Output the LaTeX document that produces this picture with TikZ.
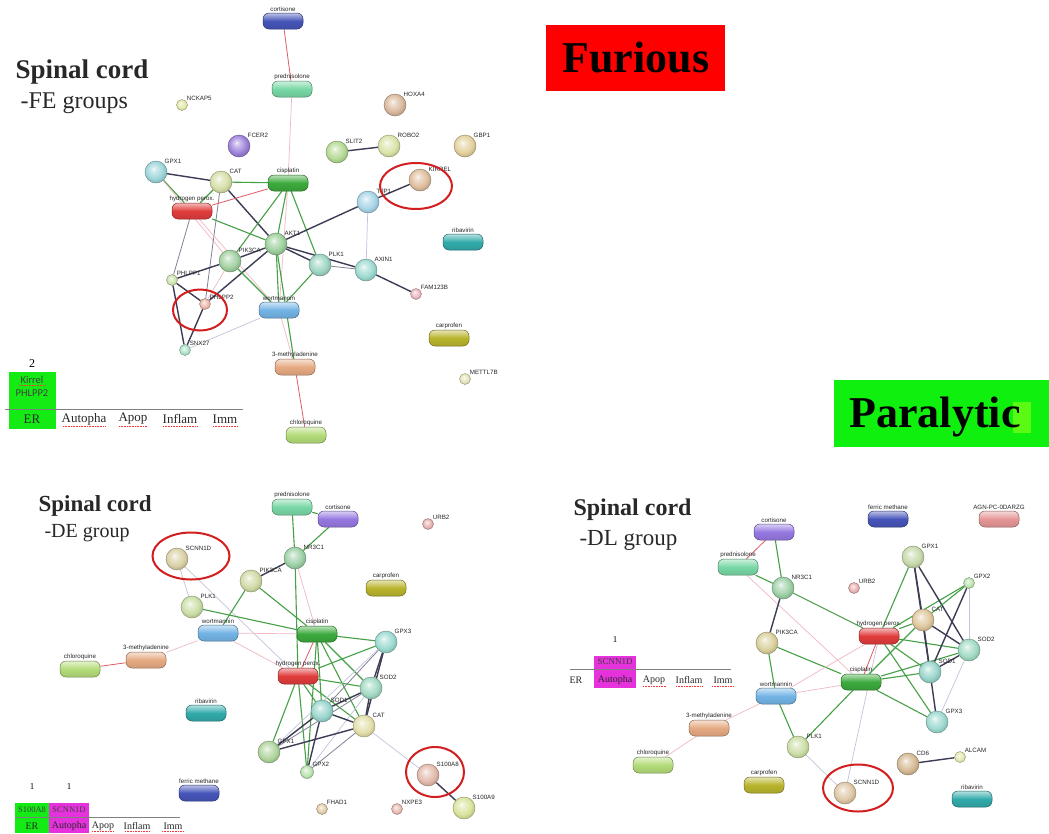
\documentclass[tikz,border=0pt]{standalone}
\usepackage{fontspec}
\setmainfont{Liberation Serif}
\newfontfamily\lsans{Liberation Sans}
\newfontfamily\carl{Carlito}
\usetikzlibrary{shapes.geometric}
\pgfdeclarelayer{bgl}
\pgfdeclarelayer{edg}
\pgfsetlayers{bgl,edg,main}
\colorlet{sphc}{gray}
\pgfdeclareradialshading[sphc]{glossy}{\pgfqpoint{-6bp}{8bp}}{color(0bp)=(sphc!12!white); color(6bp)=(sphc!45!white); color(20bp)=(sphc!92!white); color(29bp)=(sphc!85!black); color(50bp)=(sphc!75!black)}
% node colours
\definecolor{cBlue}{RGB}{70,85,185}
\definecolor{cPurp}{RGB}{150,120,225}
\definecolor{cPred}{RGB}{120,215,165}
\definecolor{cCis}{RGB}{60,170,60}
\definecolor{cHp}{RGB}{225,60,60}
\definecolor{cWort}{RGB}{115,180,230}
\definecolor{cRib}{RGB}{50,170,170}
\definecolor{cCarp}{RGB}{185,180,45}
\definecolor{cMeth}{RGB}{230,170,130}
\definecolor{cChl}{RGB}{180,220,120}
\definecolor{cAgn}{RGB}{230,150,150}
\definecolor{cGpxA}{RGB}{150,210,215}
\definecolor{cCatA}{RGB}{210,220,160}
\definecolor{cAkt}{RGB}{150,205,150}
\definecolor{cPik}{RGB}{155,205,155}
\definecolor{cPlkA}{RGB}{150,210,190}
\definecolor{cAxin}{RGB}{150,215,205}
\definecolor{cTjp}{RGB}{160,210,230}
\definecolor{cKir}{RGB}{220,185,150}
\definecolor{cHox}{RGB}{215,180,150}
\definecolor{cFcer}{RGB}{150,120,215}
\definecolor{cSlit}{RGB}{175,215,140}
\definecolor{cRobo}{RGB}{215,225,160}
\definecolor{cGbp}{RGB}{225,205,150}
\definecolor{cNck}{RGB}{225,230,160}
\definecolor{cFam}{RGB}{235,175,185}
\definecolor{cPhl1}{RGB}{200,225,165}
\definecolor{cPhl2}{RGB}{235,175,165}
\definecolor{cSnx}{RGB}{165,225,195}
\definecolor{cMet}{RGB}{225,225,180}
\definecolor{cScnB}{RGB}{215,205,160}
\definecolor{cNr}{RGB}{150,205,160}
\definecolor{cPikB}{RGB}{205,215,160}
\definecolor{cPlkB}{RGB}{200,220,160}
\definecolor{cGpx3}{RGB}{150,215,205}
\definecolor{cSod2}{RGB}{155,215,190}
\definecolor{cSod1}{RGB}{145,210,200}
\definecolor{cCatB}{RGB}{225,220,165}
\definecolor{cGpxB}{RGB}{170,210,150}
\definecolor{cGpx2}{RGB}{180,225,170}
\definecolor{cS8}{RGB}{225,180,165}
\definecolor{cS9}{RGB}{215,225,150}
\definecolor{cFhad}{RGB}{225,200,160}
\definecolor{cNxpe}{RGB}{230,180,170}
\definecolor{cUrb}{RGB}{230,170,170}
\definecolor{cPikC}{RGB}{215,205,150}
\definecolor{cGpxC}{RGB}{195,215,165}
\definecolor{cCatC}{RGB}{220,195,150}
\definecolor{cCd6}{RGB}{210,180,140}
\definecolor{cAlc}{RGB}{225,230,170}
\definecolor{cScnC}{RGB}{220,195,160}
% edge colours
\definecolor{cEg}{RGB}{70,160,70}
\definecolor{cEd}{RGB}{60,60,85}
\definecolor{cEdl}{RGB}{130,130,150}
\definecolor{cEr}{RGB}{225,90,100}
\definecolor{cEp}{RGB}{240,185,195}
\definecolor{cEl}{RGB}{195,195,220}
% other
\definecolor{cFur}{RGB}{255,0,0}
\definecolor{cPar}{RGB}{15,240,15}
\definecolor{cPar2}{RGB}{90,250,20}
\definecolor{cTg}{RGB}{20,235,20}
\definecolor{cTm}{RGB}{230,50,220}
\definecolor{cRing}{RGB}{210,30,30}
\definecolor{cTxt}{RGB}{40,40,40}
\begin{document}
\begin{tikzpicture}[x=1pt,y=-1pt,
  lbl/.style={font=\lsans\fontsize{6.2}{7}\selectfont, text=black!85, inner sep=0.6pt},
  bl/.style={circle, inner sep=0pt, minimum size=22pt, /utils/exec={\colorlet{sphc}{#1}}, shading=glossy, shade, draw=#1!65!black, line width=0.4pt},
  sbl/.style={bl=#1, minimum size=11pt},
  pl/.style={rectangle, rounded corners=6pt, minimum width=40pt, minimum height=16pt, inner sep=0pt, draw=#1!60!black, line width=0.5pt, top color=#1!35!white, bottom color=#1!90!black, middle color=#1},
  ls/.style={label={[lbl,anchor=south west]45:#1}},
  lp/.style={label={[lbl,anchor=south]90:#1}},
  eg/.style={draw=cEg, line width=1.1pt},
  ed/.style={draw=cEd, line width=1.4pt},
  edl/.style={draw=cEdl, line width=0.8pt},
  er/.style={draw=cEr, line width=0.8pt},
  ep/.style={draw=cEp, line width=0.7pt},
  el/.style={draw=cEl, line width=0.7pt},
  ring/.style={ellipse, draw=cRing, line width=2pt, inner sep=0pt},
  ttl/.style={anchor=base west, text=cTxt},
  tab/.style={font=\fontsize{13}{14}\selectfont, text=cTxt},
  tabs/.style={font=\fontsize{10}{11}\selectfont, text=cTxt},
  sq/.style={draw=red!80, densely dotted, line width=0.6pt}
]
\begin{pgfonlayer}{bgl}
\fill[white] (0,0) rectangle (1049,833);
\end{pgfonlayer}
\useasboundingbox (0,0) rectangle (1049,833);

% ===== titles and banners =====
\node[ttl, font=\bfseries\fontsize{27}{30}\selectfont] (t1a) at (12,78) {Spinal cord};
\node[ttl, font=\fontsize{24}{28}\selectfont] (t1b) at (17,108) {-FE groups};
\node[ttl, font=\bfseries\fontsize{23}{26}\selectfont] (t2a) at (35,511) {Spinal cord};
\node[ttl, font=\fontsize{20}{24}\selectfont] (t2b) at (41,537) {-DE group};
\node[ttl, font=\bfseries\fontsize{24}{27}\selectfont] (t3a) at (570,515) {Spinal cord};
\node[ttl, font=\fontsize{23}{26}\selectfont] (t3b) at (576,545) {-DL group};

\node[fill=cFur, minimum width=179pt, minimum height=66pt, inner sep=0pt] (fur) at (635.5,58) {};
\node[anchor=base west, font=\bfseries\fontsize{44}{44}\selectfont] (furt) at (559,72) {Furious};
\node[fill=cPar, minimum width=215pt, minimum height=67pt, inner sep=0pt] (par) at (941.5,413.5) {};
\node[fill=cPar2, minimum width=18pt, minimum height=31pt, inner sep=0pt] (par2) at (1022,417.5) {};
\node[anchor=base west, font=\bfseries\fontsize{44}{44}\selectfont] (part) at (846,427) {Paralytic};

% ===== tables =====
\node[font=\fontsize{12}{12}\selectfont] (f2) at (32,364) {2};
\node[fill=cTg, minimum width=47pt, minimum height=57pt, inner sep=0pt] (fg) at (32.5,400.5) {};
\node[font=\carl\fontsize{10.5}{11}\selectfont, text=black!75] (fk) at (32,380) {Kirrel};
\node[font=\carl\fontsize{10.5}{11}\selectfont, text=black!75] (fp) at (32,393) {PHLPP2};
\draw[gray, line width=0.8pt] (5,409) -- (243,409);
\node[tab] (fer) at (32,419) {ER};
\node[tab] (fau) at (84,419) {Autopha};
\node[tab] (fap) at (133,419) {Apop};
\node[tab] (fin) at (180,419) {Inflam};
\node[tab] (fim) at (225,419) {Imm};
\draw[sq] (63,426) -- (105,426) (119,426) -- (147,426) (163,426) -- (197,426) (213,426) -- (238,426);
\draw[sq] (19,385) -- (45,385);

\node[font=\fontsize{9}{9}\selectfont] (d1) at (32,787) {1};
\node[font=\fontsize{9}{9}\selectfont] (d2) at (69,787) {1};
\node[fill=cTg, minimum width=34pt, minimum height=30pt, inner sep=0pt] (dg) at (32,818) {};
\node[fill=cTm, minimum width=40pt, minimum height=30pt, inner sep=0pt] (dm) at (69,818) {};
\node[font=\fontsize{8.5}{10}\selectfont, text=black!75] (ds8) at (32,810) {S100A8};
\node[font=\fontsize{8.5}{10}\selectfont, text=black!75] (dsc) at (69,810) {SCNN1D};
\draw[gray, line width=0.7pt] (15,817) -- (180,817);
\node[tabs] (der) at (32,826) {ER};
\node[tabs] (dau) at (69,826) {Autopha};
\node[tabs] (dap) at (103,826) {Apop};
\node[tabs] (din) at (137,826) {Inflam};
\node[tabs] (dim) at (173,826) {Imm};
\draw[sq] (92,831) -- (114,831) (125,831) -- (150,831) (162,831) -- (183,831);

\node[font=\fontsize{9}{9}\selectfont] (l1) at (615,640) {1};
\node[fill=cTm, minimum width=42pt, minimum height=32pt, inner sep=0pt] (lm) at (615,672) {};
\node[font=\fontsize{9}{10}\selectfont, text=black!75] (lsc) at (615,662) {SCNN1D};
\draw[gray, line width=0.7pt] (570,669) -- (731,669);
\node[tabs] (ler) at (576,680) {ER};
\node[tabs] (lau) at (615,680) {Autopha};
\node[tabs] (lap) at (654,680) {Apop};
\node[tabs] (lin) at (689,680) {Inflam};
\node[tabs] (lim) at (723,680) {Imm};
\draw[sq] (643,686) -- (666,686) (676,686) -- (702,686) (712,686) -- (734,686);

% ===== FE network =====
\node[pl=cBlue, lp=cortisone] (a-cort) at (283,21) {};
\node[pl=cPred, lp=prednisolone] (a-pred) at (292,89) {};
\node[sbl=cNck, ls=NCKAP5] (a-nck) at (182,105) {};
\node[bl=cHox, ls=HOXA4] (a-hox) at (395,105) {};
\node[bl=cFcer, ls=FCER2] (a-fcer) at (239,146) {};
\node[bl=cSlit, ls=SLIT2] (a-slit) at (337,152) {};
\node[bl=cRobo, ls=ROBO2] (a-robo) at (389,146) {};
\node[bl=cGbp, ls=GBP1] (a-gbp) at (465,146) {};
\node[bl=cGpxA, ls=GPX1] (a-gpx1) at (156,172) {};
\node[bl=cCatA, ls=CAT] (a-cat) at (221,182) {};
\node[pl=cCis, lp=cisplatin] (a-cis) at (288,183) {};
\node[bl=cKir, ls=KIRREL] (a-kir) at (420,180) {};
\node[bl=cTjp, ls=TJP1] (a-tjp) at (368,202) {};
\node[pl=cHp, lp=hydrogen perox.] (a-hp) at (192,211) {};
\node[bl=cAkt, ls=AKT1] (a-akt) at (276,244) {};
\node[bl=cPik, ls=PIK3CA] (a-pik) at (230,261) {};
\node[bl=cPlkA, ls=PLK1] (a-plk) at (320,265) {};
\node[bl=cAxin, ls=AXIN1] (a-axin) at (366,270) {};
\node[sbl=cFam, ls=FAM123B] (a-fam) at (416,294) {};
\node[sbl=cPhl1, ls=PHLPP1] (a-phl1) at (172,280) {};
\node[sbl=cPhl2, ls=PHLPP2] (a-phl2) at (205,304) {};
\node[sbl=cSnx, ls=SNX27] (a-snx) at (185,350) {};
\node[pl=cWort, lp=wortmannin] (a-wort) at (279,310) {};
\node[pl=cRib, lp=ribavirin] (a-rib) at (463,242) {};
\node[pl=cCarp, lp=carprofen] (a-carp) at (449,338) {};
\node[pl=cMeth, lp=3-methyladenine] (a-meth) at (295,367) {};
\node[pl=cChl, lp=chloroquine] (a-chl) at (306,435) {};
\node[sbl=cMet, ls=METTL7B] (a-met) at (465,379) {};
\node[ring, minimum width=72pt, minimum height=46pt] (a-o1) at (416,186) {};
\node[ring, minimum width=54pt, minimum height=41pt] (a-o2) at (200,310) {};

\begin{pgfonlayer}{edg}
\draw[er] (a-cort) -- (a-pred);
\draw[ep] (a-pred) -- (a-cis);
\draw[ed] (a-slit) -- (a-robo);
\draw[ed] (a-gpx1) -- (a-cat);
\draw[eg] (a-gpx1) -- (a-hp);
\draw[ep] (a-gpx1) -- (a-pik);
\draw[eg] (a-cat) -- (a-cis);
\draw[eg] (a-cat) -- (a-hp);
\draw[ed] (a-cat) -- (a-akt);
\draw[edl] (a-cat) -- (a-phl2);
\draw[er] (a-hp) -- (a-cis);
\draw[eg] (a-hp) -- (a-akt);
\draw[edl] (a-hp) -- (a-phl1);
\draw[ep] (a-hp) -- (a-wort);
\draw[eg] (a-cis) -- (a-akt);
\draw[eg] (a-cis) -- (a-pik);
\draw[eg] (a-cis) -- (a-plk);
\draw[ep] (a-cis) -- (a-wort);
\draw[ed] (a-akt) -- (a-tjp);
\draw[ed] (a-akt) -- (a-pik);
\draw[ed] (a-akt) -- (a-plk);
\draw[ed] (a-akt) -- (a-axin);
\draw[ed] (a-akt) -- (a-phl2);
\draw[eg] (a-akt) -- (a-wort);
\draw[eg] (a-akt) -- (a-meth);
\draw[eg] (a-pik) -- (a-wort);
\draw[ed] (a-pik) -- (a-phl1);
\draw[ep] (a-pik) -- (a-phl2);
\draw[edl] (a-plk) -- (a-axin);
\draw[eg] (a-plk) -- (a-wort);
\draw[ed] (a-tjp) -- (a-kir);
\draw[el] (a-tjp) -- (a-axin);
\draw[ed] (a-axin) -- (a-fam);
\draw[ed] (a-phl1) -- (a-phl2);
\draw[ed] (a-phl1) -- (a-snx);
\draw[ed] (a-phl2) -- (a-snx);
\draw[el] (a-snx) -- (a-wort);
\draw[ep] (a-wort) -- (a-meth);
\draw[er] (a-meth) -- (a-chl);
\end{pgfonlayer}

% ===== DE network =====
\node[pl=cPred, lp=prednisolone] (b-pred) at (292,507) {};
\node[pl=cPurp, lp=cortisone] (b-cort) at (338,519) {};
\node[sbl=cUrb, ls=URB2] (b-urb) at (428,524) {};
\node[bl=cScnB, ls=SCNN1D] (b-scn) at (177,559) {};
\node[bl=cNr, ls=NR3C1] (b-nr) at (295,558) {};
\node[bl=cPikB, ls=PIK3CA] (b-pik) at (251,581) {};
\node[pl=cCarp, lp=carprofen] (b-carp) at (386,588) {};
\node[bl=cPlkB, ls=PLK1] (b-plk) at (192,607) {};
\node[pl=cWort, lp=wortmannin] (b-wort) at (218,633) {};
\node[pl=cCis, lp=cisplatin] (b-cis) at (317,634) {};
\node[bl=cGpx3, ls=GPX3] (b-gpx3) at (386,642) {};
\node[pl=cMeth, lp=3-methyladenine] (b-meth) at (146,660) {};
\node[pl=cChl, lp=chloroquine] (b-chl) at (80,669) {};
\node[pl=cHp, lp=hydrogen perox.] (b-hp) at (298,676) {};
\node[bl=cSod2, ls=SOD2] (b-sod2) at (371,688) {};
\node[bl=cSod1, ls=SOD1] (b-sod1) at (322,711) {};
\node[bl=cCatB, ls=CAT] (b-cat) at (364,726) {};
\node[bl=cGpxB, ls=GPX1] (b-gpx1) at (269,752) {};
\node[bl=cGpx2, minimum size=13pt, ls=GPX2] (b-gpx2) at (307,772) {};
\node[pl=cRib, lp=ribavirin] (b-rib) at (206,713) {};
\node[pl=cBlue, lp=ferric methane] (b-fer) at (199,793) {};
\node[bl=cS8, ls=S100A8] (b-s8) at (428,775) {};
\node[bl=cS9, ls=S100A9] (b-s9) at (464,808) {};
\node[sbl=cFhad, ls=FHAD1] (b-fhad) at (322,809) {};
\node[sbl=cNxpe, ls=NXPE3] (b-nxpe) at (397,809) {};
\node[ring, minimum width=77pt, minimum height=47pt] (b-o1) at (191,556) {};
\node[ring, minimum width=58pt, minimum height=50pt] (b-o2) at (435,772) {};

\begin{pgfonlayer}{edg}
\draw[eg] (b-pred) -- (b-cort);
\draw[eg] (b-pred) -- (b-nr);
\draw[eg] (b-cort) -- (b-nr);
\draw[ed] (b-nr) -- (b-pik);
\draw[eg] (b-nr) -- (b-hp);
\draw[ep] (b-nr) -- (b-cis);
\draw[el] (b-scn) -- (b-plk);
\draw[el] (b-scn) -- (b-hp);
\draw[eg] (b-pik) -- (b-wort);
\draw[eg] (b-pik) -- (b-cis);
\draw[eg] (b-plk) -- (b-cis);
\draw[ep] (b-wort) -- (b-cis);
\draw[ep] (b-wort) -- (b-hp);
\draw[ep] (b-wort) -- (b-meth);
\draw[er] (b-meth) -- (b-chl);
\draw[er] (b-cis) -- (b-hp);
\draw[eg] (b-cis) -- (b-gpx3);
\draw[eg] (b-cis) -- (b-sod2);
\draw[eg] (b-cis) -- (b-sod1);
\draw[eg] (b-cis) -- (b-cat);
\draw[eg] (b-cis) -- (b-gpx2);
\draw[eg] (b-hp) -- (b-gpx3);
\draw[eg] (b-hp) -- (b-sod2);
\draw[eg] (b-hp) -- (b-sod1);
\draw[eg] (b-hp) -- (b-cat);
\draw[eg] (b-hp) -- (b-gpx1);
\draw[eg] (b-hp) -- (b-gpx2);
\draw[ed] (b-gpx3) -- (b-sod2);
\draw[edl] (b-gpx3) -- (b-sod1);
\draw[ed] (b-gpx3) -- (b-cat);
\draw[el] (b-gpx3) -- (b-gpx1);
\draw[ed] (b-sod2) -- (b-sod1);
\draw[ed] (b-sod2) -- (b-cat);
\draw[edl] (b-sod2) -- (b-gpx1);
\draw[el] (b-sod2) -- (b-gpx2);
\draw[ed] (b-sod1) -- (b-cat);
\draw[ed] (b-sod1) -- (b-gpx1);
\draw[ed] (b-sod1) -- (b-gpx2);
\draw[ed] (b-cat) -- (b-gpx1);
\draw[edl] (b-cat) -- (b-gpx2);
\draw[el] (b-cat) -- (b-s8);
\draw[ed] (b-s8) -- (b-s9);
\end{pgfonlayer}

% ===== DL network =====
\node[pl=cBlue, lp=ferric methane] (c-fer) at (888,519) {};
\node[pl=cAgn, lp=AGN-PC-0DARZG] (c-agn) at (999,519) {};
\node[pl=cPurp, lp=cortisone] (c-cort) at (774,532) {};
\node[pl=cPred, lp=prednisolone] (c-pred) at (738,567) {};
\node[bl=cNr, ls=NR3C1] (c-nr) at (783,588) {};
\node[sbl=cUrb, ls=URB2] (c-urb) at (854,588) {};
\node[bl=cGpxC, ls=GPX1] (c-gpx1) at (913,557) {};
\node[sbl=cGpx2, ls=GPX2] (c-gpx2) at (969,583) {};
\node[bl=cCatC, ls=CAT] (c-cat) at (923,620) {};
\node[pl=cHp, lp=hydrogen perox.] (c-hp) at (879,636) {};
\node[bl=cPikC, ls=PIK3CA] (c-pik) at (767,643) {};
\node[bl=cSod2, ls=SOD2] (c-sod2) at (969,650) {};
\node[bl=cSod1, ls=SOD1] (c-sod1) at (930,672) {};
\node[pl=cCis, lp=cisplatin] (c-cis) at (861,682) {};
\node[pl=cWort, lp=wortmannin] (c-wort) at (776,696) {};
\node[bl=cGpx3, ls=GPX3] (c-gpx3) at (937,722) {};
\node[pl=cMeth, lp=3-methyladenine] (c-meth) at (709,728) {};
\node[bl=cPlkB, ls=PLK1] (c-plk) at (798,747) {};
\node[pl=cChl, lp=chloroquine] (c-chl) at (653,765) {};
\node[bl=cCd6, ls=CD6] (c-cd6) at (908,764) {};
\node[sbl=cAlc, ls=ALCAM] (c-alc) at (960,757) {};
\node[pl=cCarp, lp=carprofen] (c-carp) at (764,785) {};
\node[bl=cScnC, ls=SCNN1D] (c-scn) at (845,793) {};
\node[pl=cRib, lp=ribavirin] (c-rib) at (972,799) {};
\node[ring, minimum width=70pt, minimum height=47pt] (c-o1) at (858,788) {};

\begin{pgfonlayer}{edg}
\draw[er] (c-cort) -- (c-pred);
\draw[eg] (c-cort) -- (c-nr);
\draw[eg] (c-pred) -- (c-nr);
\draw[ep] (c-pred) -- (c-cis);
\draw[ed] (c-nr) -- (c-pik);
\draw[eg] (c-nr) -- (c-hp);
\draw[eg] (c-pik) -- (c-wort);
\draw[eg] (c-pik) -- (c-cis);
\draw[ep] (c-wort) -- (c-hp);
\draw[ep] (c-wort) -- (c-cis);
\draw[eg] (c-wort) -- (c-plk);
\draw[ep] (c-wort) -- (c-meth);
\draw[ep] (c-meth) -- (c-chl);
\draw[eg] (c-plk) -- (c-cis);
\draw[el] (c-plk) -- (c-scn);
\draw[el] (c-hp) -- (c-scn);
\draw[er] (c-hp) -- (c-cis);
\draw[eg] (c-hp) -- (c-gpx1);
\draw[eg] (c-hp) -- (c-cat);
\draw[eg] (c-hp) -- (c-gpx2);
\draw[eg] (c-hp) -- (c-sod2);
\draw[eg] (c-hp) -- (c-sod1);
\draw[eg] (c-hp) -- (c-gpx3);
\draw[eg] (c-cis) -- (c-cat);
\draw[eg] (c-cis) -- (c-sod1);
\draw[eg] (c-cis) -- (c-sod2);
\draw[eg] (c-cis) -- (c-gpx3);
\draw[ed] (c-gpx1) -- (c-cat);
\draw[ed] (c-gpx1) -- (c-sod1);
\draw[ed] (c-gpx1) -- (c-sod2);
\draw[eg] (c-gpx2) -- (c-cat);
\draw[ed] (c-gpx2) -- (c-sod1);
\draw[el] (c-gpx2) -- (c-sod2);
\draw[ed] (c-cat) -- (c-sod2);
\draw[ed] (c-cat) -- (c-sod1);
\draw[ed] (c-sod1) -- (c-sod2);
\draw[ed] (c-sod1) -- (c-gpx3);
\draw[el] (c-sod2) -- (c-gpx3);
\draw[ed] (c-cd6) -- (c-alc);
\end{pgfonlayer}
\end{tikzpicture}
\end{document}
